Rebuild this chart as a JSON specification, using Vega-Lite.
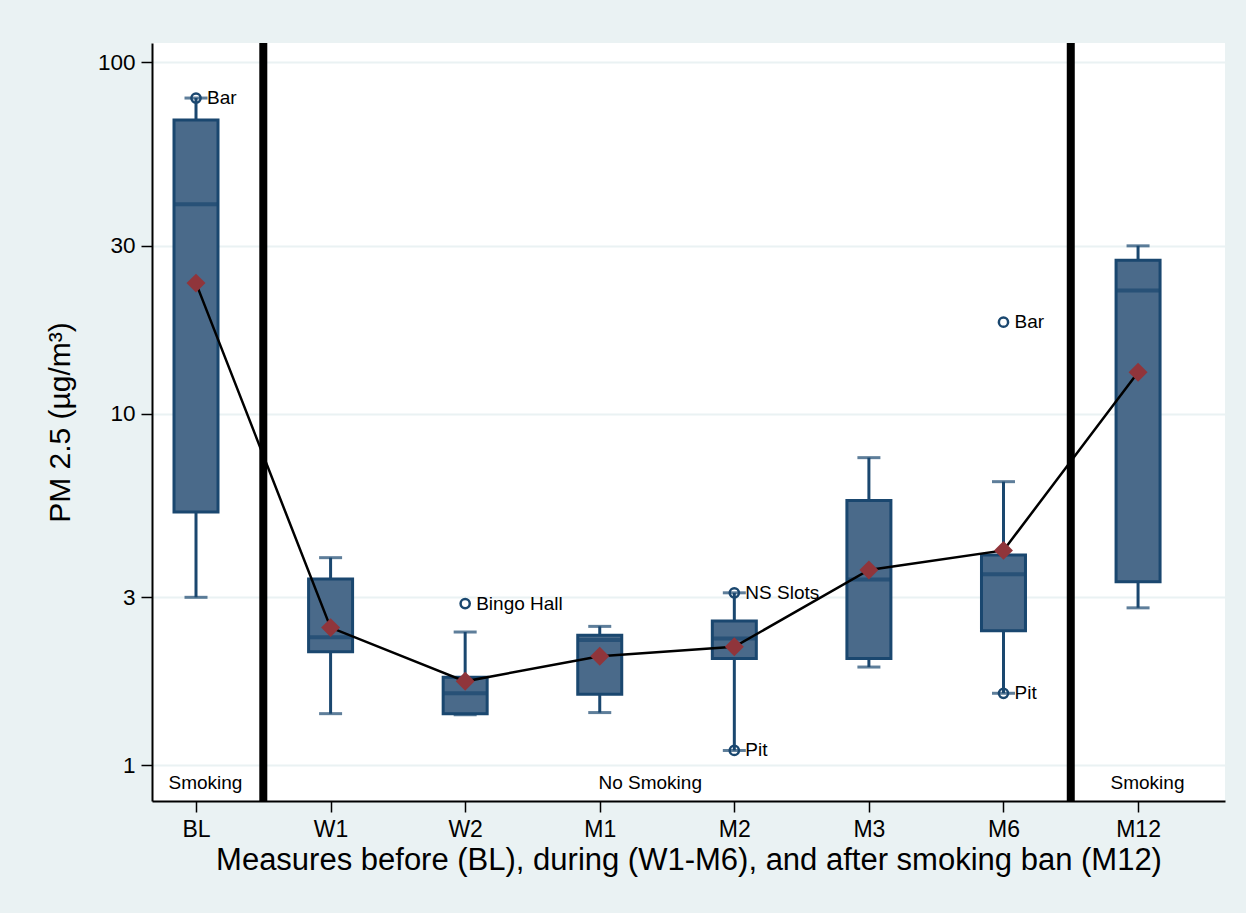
{
  "$schema": "https://vega.github.io/schema/vega-lite/v6.json",
  "width": 1073,
  "height": 758,
  "autosize": {"type": "none"},
  "padding": {"left": 152, "top": 43, "right": 21, "bottom": 112},
  "background": "#eaf2f3",
  "config": {
    "view": {"fill": "white", "stroke": null},
    "font": "Liberation Sans",
    "axis": {"labelFont": "Liberation Sans", "titleFont": "Liberation Sans", "titleFontWeight": "normal", "labelColor": "black", "titleColor": "black", "domainColor": "black", "tickColor": "black", "domainWidth": 2, "tickWidth": 1.5}
  },
  "datasets": {
    "boxes": [
      {"period": "BL", "pos": 1, "lo": 3.0, "q1": 5.25, "med": 39.4, "q3": 68.4, "hi": 79, "mean": 23.5},
      {"period": "W1", "pos": 2, "lo": 1.40, "q1": 2.10, "med": 2.31, "q3": 3.38, "hi": 3.89, "mean": 2.46},
      {"period": "W2", "pos": 3, "lo": 1.39, "q1": 1.40, "med": 1.60, "q3": 1.776, "hi": 2.39, "mean": 1.73},
      {"period": "M1", "pos": 4, "lo": 1.41, "q1": 1.59, "med": 2.27, "q3": 2.34, "hi": 2.48, "mean": 2.04},
      {"period": "M2", "pos": 5, "lo": 1.10, "q1": 2.01, "med": 2.29, "q3": 2.57, "hi": 3.09, "mean": 2.17},
      {"period": "M3", "pos": 6, "lo": 1.90, "q1": 2.01, "med": 3.37, "q3": 5.66, "hi": 7.49, "mean": 3.59},
      {"period": "M6", "pos": 7, "lo": 1.60, "q1": 2.41, "med": 3.49, "q3": 3.96, "hi": 6.40, "mean": 4.08},
      {"period": "M12", "pos": 8, "lo": 2.80, "q1": 3.32, "med": 22.4, "q3": 27.3, "hi": 30.0, "mean": 13.1}
    ],
    "outliers": [
      {"pos": 1, "value": 79, "label": "Bar"},
      {"pos": 3, "value": 2.88, "label": "Bingo Hall"},
      {"pos": 5, "value": 3.09, "label": "NS Slots"},
      {"pos": 5, "value": 1.10, "label": "Pit"},
      {"pos": 7, "value": 18.2, "label": "Bar"},
      {"pos": 7, "value": 1.60, "label": "Pit"}
    ],
    "zones": [
      {"pos": 1.07, "value": 0.889, "label": "Smoking"},
      {"pos": 4.375, "value": 0.889, "label": "No Smoking"},
      {"pos": 8.07, "value": 0.889, "label": "Smoking"}
    ],
    "bans": [{"pos": 1.5}, {"pos": 7.5}]
  },
  "encoding": {
    "x": {"field": "pos", "type": "quantitative",
      "scale": {"domain": [0.673, 8.646], "nice": false, "zero": false, "padding": 0},
      "axis": {"values": [1, 2, 3, 4, 5, 6, 7, 8], "labelExpr": "['','BL','W1','W2','M1','M2','M3','M6','M12'][datum.value]", "grid": false, "labelFontSize": 23, "tickSize": 11, "labelPadding": 6, "title": "Measures before (BL), during (W1-M6), and after smoking ban (M12)", "titleFontSize": 31, "titlePadding": 4}}
  },
  "layer": [
    {
      "data": {"name": "boxes"},
      "mark": {"type": "rule", "color": "#1a476f", "strokeWidth": 3},
      "encoding": {
        "y": {"field": "lo", "type": "quantitative",
          "scale": {"type": "log", "domain": [0.79, 113.3], "nice": false, "zero": false},
          "axis": {"values": [1, 3, 10, 30, 100], "labelExpr": "format(datum.value, 'd')", "grid": true, "gridColor": "#eaf2f3", "gridWidth": 2, "labelFontSize": 22.5, "tickSize": 11, "labelPadding": 6, "title": "PM 2.5 (µg/m³)", "titleFontSize": 30, "titlePadding": 22}},
        "y2": {"field": "hi"}
      }
    },
    {
      "data": {"name": "boxes"},
      "mark": {"type": "tick", "orient": "horizontal", "color": "#1a476f", "size": 23, "thickness": 3},
      "encoding": {"y": {"field": "lo", "type": "quantitative"}}
    },
    {
      "data": {"name": "boxes"},
      "mark": {"type": "tick", "orient": "horizontal", "color": "#1a476f", "size": 23, "thickness": 3},
      "encoding": {"y": {"field": "hi", "type": "quantitative"}}
    },
    {
      "data": {"name": "boxes"},
      "mark": {"type": "bar", "size": 44, "fill": "#4a6a8a", "stroke": "#1a476f", "strokeWidth": 3},
      "encoding": {"y": {"field": "q1", "type": "quantitative"}, "y2": {"field": "q3"}}
    },
    {
      "data": {"name": "boxes"},
      "mark": {"type": "tick", "orient": "horizontal", "color": "#1a476f", "size": 44, "thickness": 4},
      "encoding": {"y": {"field": "med", "type": "quantitative"}}
    },
    {
      "data": {"name": "bans"},
      "mark": {"type": "rule", "color": "black", "strokeWidth": 8},
      "encoding": {}
    },
    {
      "data": {"name": "boxes"},
      "mark": {"type": "line", "color": "black", "strokeWidth": 2.5},
      "encoding": {"y": {"field": "mean", "type": "quantitative"}}
    },
    {
      "data": {"name": "boxes"},
      "mark": {"type": "point", "shape": "diamond", "filled": true, "color": "#90353b", "opacity": 1, "size": 360},
      "encoding": {"y": {"field": "mean", "type": "quantitative"}}
    },
    {
      "data": {"name": "outliers"},
      "mark": {"type": "point", "shape": "circle", "filled": false, "stroke": "#1a476f", "strokeWidth": 2.5, "opacity": 1, "size": 85},
      "encoding": {"y": {"field": "value", "type": "quantitative"}}
    },
    {
      "data": {"name": "outliers"},
      "mark": {"type": "text", "align": "left", "baseline": "middle", "dx": 11, "fontSize": 19, "color": "black"},
      "encoding": {"y": {"field": "value", "type": "quantitative"}, "text": {"field": "label"}}
    },
    {
      "data": {"name": "zones"},
      "mark": {"type": "text", "align": "center", "baseline": "middle", "fontSize": 19, "color": "black"},
      "encoding": {"y": {"field": "value", "type": "quantitative"}, "text": {"field": "label"}}
    }
  ]
}
